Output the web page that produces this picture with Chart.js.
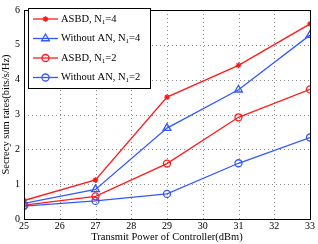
<!DOCTYPE html>
<html>
<head>
<meta charset="utf-8">
<script src="https://cdn.jsdelivr.net/npm/chart.js@4.4.0/dist/chart.umd.min.js"></script>
<style>
  html, body { margin: 0; padding: 0; background: #fff; }
  #wrap { width: 318px; height: 244px; }
</style>
</head>
<body>
<div id="wrap"><canvas id="c" width="318" height="244"></canvas></div>
<script>
// data
var powers = [25, 27, 29, 31, 33];
var asbdN4 = [0.53, 1.12, 3.5, 4.41, 5.6];
var noAnN4 = [0.45, 0.85, 2.61, 3.71, 5.28];
var asbdN2 = [0.4, 0.65, 1.59, 2.92, 3.72];
var noAnN2 = [0.37, 0.52, 0.72, 1.6, 2.34];
var xTicks = [25, 26, 27, 28, 29, 30, 31, 32, 33];
var yTicks = [0, 1, 2, 3, 4, 5, 6];

var RED = "#ff1a1a";
var BLUE = "#3358ff";
var FONT = "'Liberation Serif', 'Times New Roman', serif";

function pts(arr) {
  return powers.map(function (p, i) { return { x: p, y: arr[i] }; });
}

function series(label, arr, color, style, radius) {
  return {
    label: label,
    data: pts(arr),
    borderColor: color,
    backgroundColor: style === "star" ? color : "rgba(0,0,0,0)",
    pointBorderColor: color,
    pointBackgroundColor: style === "star" ? color : "rgba(0,0,0,0)",
    pointStyle: style,
    pointRadius: radius,
    pointBorderWidth: 1.3,
    borderWidth: 1.3,
    tension: 0,
  };
}

// dotted grid, placed from the scales' own ticks
var dotGrid = {
  id: "dotGrid",
  beforeDatasetsDraw: function (chart) {
    var a = chart.chartArea;
    var ctx = chart.ctx;
    var xs = chart.scales.x, ys = chart.scales.y;
    ctx.save();
    ctx.strokeStyle = "#8c8c8c";
    ctx.lineWidth = 1;
    ctx.setLineDash([1, 3]);
    xs.ticks.forEach(function (t) {
      var px = Math.round(xs.getPixelForValue(t.value)) + 0.5;
      ctx.beginPath();
      ctx.moveTo(px, a.top);
      ctx.lineTo(px, a.bottom);
      ctx.stroke();
    });
    ys.ticks.forEach(function (t) {
      var py = Math.round(ys.getPixelForValue(t.value)) + 0.5;
      ctx.beginPath();
      ctx.moveTo(a.left, py);
      ctx.lineTo(a.right, py);
      ctx.stroke();
    });
    ctx.restore();
  },
};

// legend box drawn inside the plot
var boxLegend = {
  id: "boxLegend",
  afterDraw: function (chart) {
    var ctx = chart.ctx;
    var x0 = 28, y0 = 8, w = 122, h = 80;
    ctx.save();
    ctx.fillStyle = "#fff";
    ctx.fillRect(x0, y0, w, h);
    ctx.strokeStyle = "#000";
    ctx.lineWidth = 1;
    ctx.strokeRect(x0 + 0.5, y0 + 0.5, w, h);
    chart.data.datasets.forEach(function (ds, i) {
      var cy = y0 + 11 + i * 19.5;
      ctx.strokeStyle = ds.borderColor;
      ctx.lineWidth = 1.3;
      ctx.beginPath();
      ctx.moveTo(x0 + 5, cy);
      ctx.lineTo(x0 + 30, cy);
      ctx.stroke();
      ctx.fillStyle = ds.pointBackgroundColor;
      Chart.helpers.drawPoint(ctx, {
        pointStyle: ds.pointStyle,
        radius: ds.pointRadius,
        borderWidth: 1.3,
        rotation: 0,
      }, x0 + 17.5, cy);
      // label with subscript
      var parts = ds.label.split("|");
      ctx.fillStyle = "#000";
      ctx.font = "10.5px " + FONT;
      ctx.textBaseline = "middle";
      var tx = x0 + 33;
      ctx.fillText(parts[0], tx, cy);
      tx += ctx.measureText(parts[0]).width;
      ctx.font = "7px " + FONT;
      ctx.fillText(parts[1], tx, cy + 3);
      tx += ctx.measureText(parts[1]).width;
      ctx.font = "10.5px " + FONT;
      ctx.fillText(parts[2], tx, cy);
    });
    ctx.restore();
  },
};

// black frame round the plot
var frame = {
  id: "frame",
  afterDatasetsDraw: function (chart) {
    var a = chart.chartArea;
    var ctx = chart.ctx;
    ctx.save();
    ctx.strokeStyle = "#000";
    ctx.lineWidth = 1;
    ctx.strokeRect(Math.round(a.left) + 0.5, Math.round(a.top) + 0.5, Math.round(a.right - a.left), Math.round(a.bottom - a.top));
    ctx.restore();
  },
};

var ctx = document.getElementById("c").getContext("2d");
new Chart(ctx, {
  type: "line",
  data: {
    datasets: [
      series("ASBD, N|1|=4", asbdN4, RED, "star", 2.8),
      series("Without AN, N|1|=4", noAnN4, BLUE, "triangle", 4.5),
      series("ASBD, N|1|=2", asbdN2, RED, "circle", 3.5),
      series("Without AN, N|1|=2", noAnN2, BLUE, "circle", 3.5),
    ],
  },
  options: {
    responsive: false,
    animation: false,
    layout: { padding: { top: 4, right: 8, left: 0, bottom: 0 } },
    plugins: { legend: { display: false }, tooltip: { enabled: false } },
    scales: {
      x: {
        type: "linear",
        min: 25,
        max: 33,
        afterBuildTicks: function (axis) {
          axis.ticks = xTicks.map(function (v) { return { value: v }; });
        },
        afterFit: function (axis) { axis.height = 25; },
        grid: { display: false, drawTicks: false },
        border: { display: false },
        ticks: { color: "#000", font: { family: FONT, size: 10 }, padding: 1, maxRotation: 0 },
        title: { display: true, text: "Transmit Power of Controller(dBm)", color: "#000", font: { family: FONT, size: 10.5 }, padding: 0 },
      },
      y: {
        min: 0,
        max: 6,
        afterBuildTicks: function (axis) {
          axis.ticks = yTicks.map(function (v) { return { value: v }; });
        },
        afterFit: function (axis) { axis.width = 24; },
        grid: { display: false, drawTicks: false },
        border: { display: false },
        ticks: { color: "#000", font: { family: FONT, size: 10 }, padding: 4 },
        title: { display: true, text: "Secrecy sum rates(bits/s/Hz)", color: "#000", font: { family: FONT, size: 10.5 }, padding: 0 },
      },
    },
  },
  plugins: [dotGrid, frame, boxLegend],
});
</script>
</body>
</html>
